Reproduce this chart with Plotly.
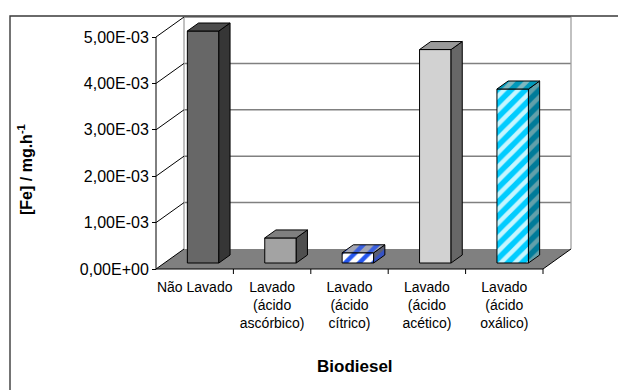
import plotly.graph_objects as go

# ---------------- data ----------------
categories = [
    "Não Lavado",
    "Lavado<br>(ácido<br>ascórbico)",
    "Lavado<br>(ácido<br>cítrico)",
    "Lavado<br>(ácido<br>acético)",
    "Lavado<br>(ácido<br>oxálico)",
]
fe_values = [5.0e-3, 0.54e-3, 0.22e-3, 4.6e-3, 3.75e-3]
y_ticks = [0, 1e-3, 2e-3, 3e-3, 4e-3, 5e-3]
y_tick_labels = [f"{v:.2E}".replace(".", ",") for v in y_ticks]
x_title = "Biodiesel"
y_title = "<b>[Fe] / mg.h<sup>-1</sup></b>"

# ---------------- style ----------------
front_colors = ["#676767", "#a3a3a3", "#ffffff", "#d2d2d2", "#00ccff"]
side_colors = ["#363636", "#4f4f4f", "#5c5f72", "#676767", "#007b99"]
top_colors = ["#4c4c4c", "#7f7f7f", "#a4a6b2", "#9a9a9a", "#0099bb"]
pattern_shapes = ["", "", "/", "", "/"]
front_fg = ["#000000", "#000000", "#2456ee", "#000000", "#c6f6ff"]
side_fg = ["#000000", "#000000", "#3552c4", "#000000", "#62a0aa"]
top_fg = ["#000000", "#000000", "#3a60e0", "#000000", "#80b8c0"]

FONT = "Liberation Sans, Arial, sans-serif"
FIG_W, FIG_H = 618, 390
X0_PX, CAT_PX = 156, 77.4      # front-left corner of floor, px per category
Y0_PX, UNIT_PX = 269, 46.4     # zero line, px per 1e-3
DEPTH_X_PX, DEPTH_Y_PX = 28, 20

Dx = DEPTH_X_PX / CAT_PX
Dy = DEPTH_Y_PX / UNIT_PX * 1e-3
px_y = 1e-3 / UNIT_PX
bar_w = 31.5 / CAT_PX
front_frac, depth_frac = 0.3, 0.4
n = len(categories)
PAT_SIZE, PAT_SOLID = 10, 0.45

x_range = [-0.5 - X0_PX / CAT_PX, -0.5 + (FIG_W - X0_PX) / CAT_PX]
y_range = [-(FIG_H - Y0_PX) * px_y, Y0_PX * px_y]

fig = go.Figure()

centers = [i + front_frac * Dx for i in range(n)]
base = front_frac * Dy
ddx, ddy = depth_frac * Dx, depth_frac * Dy


def pattern(i, fg, bg):
    if not pattern_shapes[i]:
        return None
    return dict(shape=pattern_shapes[i], fgcolor=fg, bgcolor=bg,
                size=PAT_SIZE, solidity=PAT_SOLID, fillmode="replace")


# front faces of the bars (one bar trace per category)
for i, v in enumerate(fe_values):
    mk = dict(color=front_colors[i], line=dict(color="black", width=1))
    p = pattern(i, front_fg[i], front_colors[i])
    if p:
        mk["pattern"] = p
    fig.add_trace(go.Bar(
        x=[centers[i]], y=[v], base=base, width=bar_w, marker=mk,
        hoverinfo="skip", showlegend=False,
    ))

# side and top faces
for i, v in enumerate(fe_values):
    xl, xr = centers[i] - bar_w / 2, centers[i] + bar_w / 2
    b, t = base, base + v
    faces = [
        ([xr, xr + ddx, xr + ddx, xr, xr], [b, b + ddy, t + ddy, t, b], side_colors[i], side_fg[i]),
        ([xl, xr, xr + ddx, xl + ddx, xl], [t, t, t + ddy, t + ddy, t], top_colors[i], top_fg[i]),
    ]
    for fx, fy, col, fg in faces:
        kw = {}
        p = pattern(i, fg, col)
        if p:
            kw["fillpattern"] = p
        fig.add_trace(go.Scatter(
            x=fx, y=fy, mode="lines", fill="toself", fillcolor=col,
            line=dict(color="black", width=1), hoverinfo="skip", showlegend=False, **kw))

# ---------------- walls / floor ----------------
shapes = []
xL, xR = -0.5, n - 0.5
shapes.append(dict(type="path", xref="x", yref="y", layer="below",
                   path=f"M {xL},0 L {xR},0 L {xR + Dx},{Dy} L {xL + Dx},{Dy} Z",
                   fillcolor="#808080", line=dict(width=0)))
for v in y_ticks[1:]:
    shapes.append(dict(type="line", xref="x", yref="y", layer="below",
                       x0=xL + Dx, x1=xR + Dx, y0=v + Dy, y1=v + Dy,
                       line=dict(color="#808080", width=1.5)))
for xx in (xL + Dx, xR + Dx):
    shapes.append(dict(type="line", xref="x", yref="y", layer="below",
                       x0=xx, x1=xx, y0=Dy, y1=y_ticks[-1] + Dy,
                       line=dict(color="#a0a0a0", width=1.3)))
for v in y_ticks:
    shapes.append(dict(type="line", xref="x", yref="y", layer="below",
                       x0=xL, x1=xL + Dx, y0=v, y1=v + Dy,
                       line=dict(color="black", width=1)))
shapes.append(dict(type="line", xref="x", yref="y", layer="below",
                   x0=xL, x1=xL, y0=0, y1=y_ticks[-1], line=dict(color="black", width=1)))
shapes.append(dict(type="line", xref="x", yref="y", layer="below",
                   x0=xL, x1=xR, y0=0, y1=0, line=dict(color="black", width=1)))
shapes.append(dict(type="line", xref="x", yref="y", layer="below",
                   x0=xR, x1=xR + Dx, y0=0, y1=Dy, line=dict(color="black", width=1)))
for k in range(n):
    bx = k + 0.5
    shapes.append(dict(type="line", xref="x", yref="y", layer="below",
                       x0=bx, x1=bx, y0=0, y1=-5 * px_y, line=dict(color="black", width=1)))
# chart-area border
shapes.append(dict(type="rect", xref="paper", yref="paper", layer="above",
                   x0=10 / FIG_W, x1=1.05, y0=-0.05, y1=1 - 16 / FIG_H,
                   line=dict(color="#3a3a3a", width=1.4), fillcolor="rgba(0,0,0,0)"))

fig.update_layout(
    width=FIG_W, height=FIG_H,
    margin=dict(l=0, r=0, t=0, b=0),
    paper_bgcolor="white", plot_bgcolor="white",
    shapes=shapes,
    barmode="overlay",
    xaxis=dict(range=x_range, domain=[0, 1], anchor="free",
               position=(FIG_H - Y0_PX) / FIG_H,
               tickvals=list(range(n)), ticktext=categories, ticks="",
               ticklabelstandoff=8,
               showgrid=False, zeroline=False, showline=False,
               tickfont=dict(family=FONT, size=14, color="black")),
    yaxis=dict(range=y_range, domain=[0, 1], anchor="free",
               position=X0_PX / FIG_W,
               tickvals=y_ticks, ticktext=y_tick_labels,
               ticks="outside", ticklen=4, tickcolor="black", tickwidth=1,
               showgrid=False, zeroline=False, showline=False,
               tickfont=dict(family=FONT, size=16, color="black")),
    annotations=[
        dict(text=y_title, xref="paper", yref="paper", x=25 / FIG_W, y=1 - 170 / FIG_H,
             textangle=-90, showarrow=False, xanchor="center", yanchor="middle",
             font=dict(family=FONT, size=16, color="black")),
        dict(text=f"<b>{x_title}</b>", xref="paper", yref="paper",
             x=354.5 / FIG_W, y=1 - 366 / FIG_H, showarrow=False,
             xanchor="center", yanchor="middle",
             font=dict(family=FONT, size=17, color="black")),
    ],
)

fig.write_html("out.html", config={"displayModeBar": False},
               post_script="document.body.style.margin='0';document.body.style.padding='0';")
